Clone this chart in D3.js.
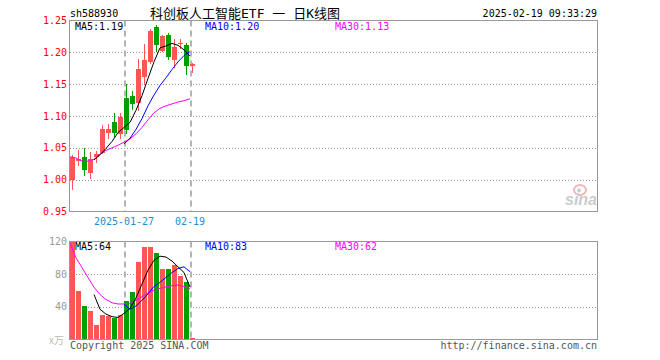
<!DOCTYPE html>
<html>
<head>
<meta charset="utf-8">
<script src="https://cdn.jsdelivr.net/npm/d3@7"></script>
<style>
  body { margin: 0; background: #fff; }
  text { font-family: "DejaVu Sans Mono", monospace; font-size: 10px; }
</style>
</head>
<body>
<div id="wrapper"></div>
<script>
// data
const dates = ["2025-01-14","2025-01-15","2025-01-16","2025-01-17","2025-01-20","2025-01-21","2025-01-22",
  "2025-01-23","2025-01-24","2025-01-27","2025-02-05","2025-02-06","2025-02-07","2025-02-10",
  "2025-02-11","2025-02-12","2025-02-13","2025-02-14","2025-02-17","2025-02-18","2025-02-19"]
const openP  = [1.000,1.030,1.035,1.010,1.035,1.042,1.073,1.091,1.072,1.129,1.132,1.120,1.161,1.185,1.240,1.202,1.227,1.188,1.213,1.211,1.179]
const closeP = [1.035,1.032,1.015,1.032,1.040,1.079,1.079,1.073,1.099,1.078,1.119,1.174,1.188,1.234,1.211,1.226,1.193,1.208,1.215,1.179,1.181]
const highP  = [1.038,1.046,1.049,1.043,1.045,1.086,1.087,1.105,1.105,1.151,1.140,1.189,1.213,1.236,1.243,1.227,1.230,1.221,1.221,1.215,1.184]
const lowP   = [0.984,1.021,1.006,1.001,1.026,1.041,1.064,1.066,1.064,1.071,1.110,1.108,1.149,1.182,1.201,1.200,1.188,1.175,1.205,1.164,1.167]
const ma5P   = [null,null,null,null,1.031,1.039,1.049,1.060,1.074,1.082,1.090,1.109,1.132,1.159,1.185,1.207,1.210,1.214,1.211,1.204,1.194]
const ma10P  = [null,null,null,null,null,null,null,null,null,1.056,1.065,1.079,1.096,1.116,1.133,1.148,1.160,1.173,1.185,1.195,1.201]
const ma30P  = [1.036,1.034,1.029,1.029,1.032,1.040,1.046,1.050,1.054,1.059,1.064,1.072,1.082,1.094,1.105,1.112,1.116,1.119,1.122,1.124,1.127]
const volume = [119,59,41,35,18,30,29,26,30,47,58,94.5,113,113,105.5,86,86,91,77.6,70,2.4]
const ma5V   = [null,null,null,null,55,37,31,28,27,32,38,51,68,85,97,102,101,96,89,82,64]
const ma10V  = [null,null,null,null,null,null,null,null,null,43,37,41,48,56,65,70,76,82,87,89,83]
const ma30V  = [118,100,88,76,64,55,49,45,43.5,43.5,44.5,48,52.5,57,60.5,62.6,64.5,65.8,66.7,65,62]
const priceTicks = [1.25,1.20,1.15,1.10,1.05,1.00,0.95]
const volTicks = [120,80,40]
const markDates = [["2025-01-27","2025-01-27"],["2025-02-19","02-19"]]

const bars = dates.map((d, i) => ({
  date: d, open: openP[i], close: closeP[i], high: highP[i], low: lowP[i], vol: volume[i]
}))

const dimensions = {
  width: 660,
  height: 360,
  left: 70,
  right: 597,
  priceTop: 20.5,
  priceBottom: 211.5,
  volTop: 241.5,
  volBottom: 339.5,
}

const red = "#ff5555"
const green = "#00a000"

const wrapper = d3.select("#wrapper")
  .append("svg")
  .attr("width", dimensions.width)
  .attr("height", dimensions.height)

const xScaler = d3.scaleBand()
  .domain(dates)
  .range([dimensions.left, dimensions.left + 125])
  .paddingInner(1 / 6)
  .paddingOuter(0)

const yPrice = d3.scaleLinear()
  .domain([0.95, 1.25])
  .range([dimensions.priceBottom, dimensions.priceTop])

const yVol = d3.scaleLinear()
  .domain([0, 120])
  .range([dimensions.volBottom, dimensions.volTop])

// header
wrapper.append("text").attr("x", 70).attr("y", 17).attr("fill", "#000").text("sh588930")
wrapper.append("text").attr("x", 150).attr("y", 17.5)
  .attr("xml:space", "preserve")
  .style("font-family", "'DejaVu Sans Mono', 'Noto Sans CJK SC', sans-serif").style("font-size", "13px")
  .attr("fill", "#000").text("科创板人工智能ETF 一 日K线图")
wrapper.append("text").attr("x", 597).attr("y", 17).attr("text-anchor", "end")
  .attr("fill", "#000").text("2025-02-19 09:33:29")

// grids
const gridP = wrapper.append("g")
gridP.selectAll("line")
  .data(priceTicks.filter(t => t < 1.25 && t > 0.95))
  .join("line")
  .attr("x1", dimensions.left).attr("x2", dimensions.right + 1)
  .attr("y1", d => Math.round(yPrice(d)) + 0.5).attr("y2", d => Math.round(yPrice(d)) + 0.5)
  .attr("stroke", "#999").attr("stroke-dasharray", "1,2")

const gridV = wrapper.append("g")
gridV.selectAll("line")
  .data(volTicks.filter(t => t < 120))
  .join("line")
  .attr("x1", dimensions.left).attr("x2", dimensions.right + 1)
  .attr("y1", d => Math.round(yVol(d)) + 0.5).attr("y2", d => Math.round(yVol(d)) + 0.5)
  .attr("stroke", "#999").attr("stroke-dasharray", "1,2")

// dashed date markers
for (const [top, bottom] of [[dimensions.priceTop, dimensions.priceBottom], [dimensions.volTop, dimensions.volBottom]]) {
  wrapper.append("g").selectAll("line")
    .data(markDates)
    .join("line")
    .attr("x1", d => xScaler(d[0]) + 1).attr("x2", d => xScaler(d[0]) + 1)
    .attr("y1", top).attr("y2", bottom)
    .attr("stroke", "#b4b4b4").attr("stroke-width", 2).attr("stroke-dasharray", "6,4")
}

// candles
const candles = wrapper.append("g").attr("shape-rendering", "crispEdges")
const candleGroups = candles.selectAll("g").data(bars).join("g")
  .attr("fill", d => d.close >= d.open ? red : green)
  .attr("stroke", d => d.close >= d.open ? red : green)

candleGroups.append("line")
  .attr("x1", d => xScaler(d.date) + 2.5).attr("x2", d => xScaler(d.date) + 2.5)
  .attr("y1", d => yPrice(d.high)).attr("y2", d => yPrice(d.low))

candleGroups.append("rect")
  .attr("stroke", "none")
  .attr("x", d => xScaler(d.date))
  .attr("width", xScaler.bandwidth())
  .attr("y", d => yPrice(Math.max(d.open, d.close)))
  .attr("height", d => Math.max(1, Math.abs(yPrice(d.open) - yPrice(d.close))))

// volume bars
wrapper.append("g").attr("shape-rendering", "crispEdges")
  .selectAll("rect").data(bars).join("rect")
  .attr("x", d => xScaler(d.date))
  .attr("width", xScaler.bandwidth())
  .attr("y", d => yVol(d.vol))
  .attr("height", d => dimensions.volBottom - yVol(d.vol))
  .attr("fill", d => d.close >= d.open ? red : green)

// moving averages
function maLine(values, yScaler, color) {
  const line = d3.line()
    .defined(d => d != null)
    .x((d, i) => xScaler(dates[i]))
    .y(d => yScaler(d))
  wrapper.append("path")
    .datum(values)
    .attr("d", line)
    .attr("fill", "none")
    .attr("stroke", color)
    .attr("stroke-width", 1)
}
maLine(ma30P, yPrice, "#ff00ff")
maLine(ma10P, yPrice, "#0000ff")
maLine(ma5P, yPrice, "#000")
maLine(ma30V, yVol, "#ff00ff")
maLine(ma10V, yVol, "#0000ff")
maLine(ma5V, yVol, "#000")

// frames
const frame = wrapper.append("g").attr("fill", "none").attr("stroke", "#999").attr("shape-rendering", "crispEdges")
frame.append("rect").attr("x", dimensions.left - 0.5).attr("y", dimensions.priceTop)
  .attr("width", dimensions.right - dimensions.left + 1).attr("height", dimensions.priceBottom - dimensions.priceTop)
frame.append("rect").attr("x", dimensions.left - 0.5).attr("y", dimensions.volTop)
  .attr("width", dimensions.right - dimensions.left + 1).attr("height", dimensions.volBottom - dimensions.volTop)

// axis labels
wrapper.append("g").selectAll("text").data(priceTicks).join("text")
  .attr("x", 67).attr("y", d => yPrice(d) + 3.5)
  .attr("text-anchor", "end").attr("fill", "#ff0000")
  .text(d => d.toFixed(2))

wrapper.append("g").selectAll("text").data(volTicks).join("text")
  .attr("x", 67).attr("y", d => yVol(d) + 3.5)
  .attr("text-anchor", "end").attr("fill", "#999")
  .text(d => d)

wrapper.append("text").attr("x", 64).attr("y", 344).attr("text-anchor", "end")
  .attr("fill", "#bbb").style("font-family", "'Noto Sans CJK SC', sans-serif").text("x万")

wrapper.append("g").selectAll("text").data(markDates).join("text")
  .attr("x", d => xScaler(d[0])).attr("y", 225)
  .attr("text-anchor", "middle").attr("fill", "#1e8ed8")
  .text(d => d[1])

// MA labels
const maLabels = [
  ["MA5:" + ma5P[ma5P.length - 1].toFixed(2), 75, "#000"],
  ["MA10:" + ma10P[ma10P.length - 1].toFixed(2), 205, "#0000ff"],
  ["MA30:" + ma30P[ma30P.length - 1].toFixed(2), 335, "#ff00ff"],
]
wrapper.append("g").selectAll("text").data(maLabels).join("text")
  .attr("x", d => d[1]).attr("y", 29.5).attr("fill", d => d[2]).text(d => d[0])

const volLabels = [
  ["MA5:" + ma5V[ma5V.length - 1], 75, "#000"],
  ["MA10:" + ma10V[ma10V.length - 1], 205, "#0000ff"],
  ["MA30:" + ma30V[ma30V.length - 1], 335, "#ff00ff"],
]
wrapper.append("g").selectAll("text").data(volLabels).join("text")
  .attr("x", d => d[1]).attr("y", 249.5).attr("fill", d => d[2]).text(d => d[0])

// footer
wrapper.append("text").attr("x", 70).attr("y", 349).attr("fill", "#555").text("Copyright 2025 SINA.COM")
wrapper.append("text").attr("x", 597).attr("y", 349).attr("text-anchor", "end")
  .attr("fill", "#555").text("http://finance.sina.com.cn")

// sina watermark
const logo = wrapper.append("g").attr("opacity", 0.75)
logo.append("ellipse").attr("cx", 580).attr("cy", 190).attr("rx", 6).attr("ry", 5)
  .attr("fill", "none").attr("stroke", "#f0a0a0").attr("stroke-width", 2)
logo.append("circle").attr("cx", 579).attr("cy", 190.5).attr("r", 2).attr("fill", "#bbb")
logo.append("text").attr("x", 565).attr("y", 205)
  .style("font-family", "'Liberation Sans', sans-serif").style("font-size", "16px")
  .style("font-style", "italic").style("font-weight", "bold")
  .attr("fill", "#bbb").text("sina")
</script>
</body>
</html>
